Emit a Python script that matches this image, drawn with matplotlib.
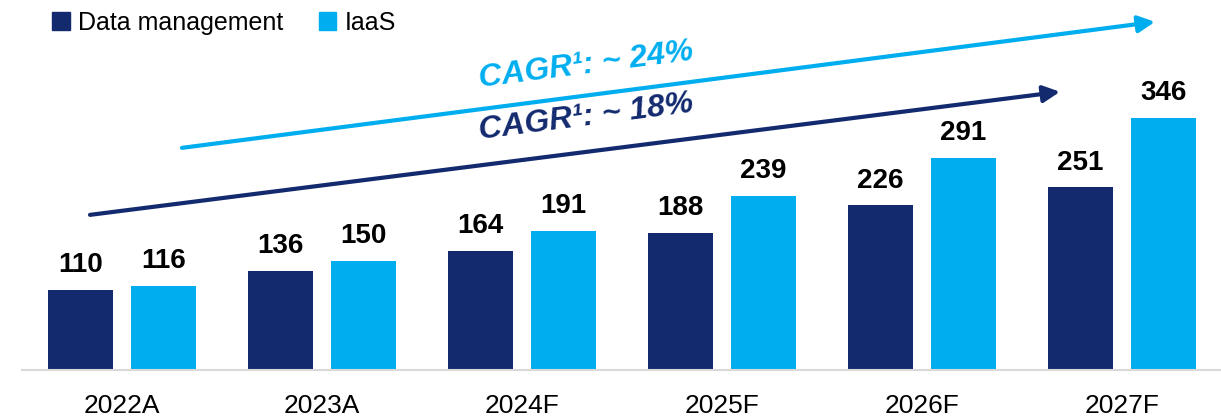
import matplotlib
matplotlib.use("Agg")
import matplotlib.pyplot as plt
from matplotlib.patches import Patch

years = ["2022A", "2023A", "2024F", "2025F", "2026F", "2027F"]
data_mgmt = [110, 136, 164, 188, 226, 251]
iaas = [116, 150, 191, 239, 291, 346]

dark = "#132A6F"
light = "#00AEEF"

plt.rcParams['font.family'] = ['Liberation Sans', 'DejaVu Sans']

fig = plt.figure(figsize=(12.21, 4.16), dpi=100)
ax = fig.add_axes([22 / 1221, 1 - 370 / 416, 1 - 22 / 1221, 370 / 416])

x = list(range(len(years)))
w = 0.325
off = 0.2075
b1 = ax.bar([i - off for i in x], data_mgmt, w, color=dark)
b2 = ax.bar([i + off for i in x], iaas, w, color=light)

for bars, vals in ((b1, data_mgmt), (b2, iaas)):
    for b, v in zip(bars, vals):
        ax.text(b.get_x() + b.get_width() / 2, v + 16, str(v), ha="center",
                va="bottom", fontsize=20, fontweight="bold", color="black")

ax.set_xlim(-0.5, 5.495)
ax.set_ylim(0, 508)
ax.set_xticks(x)
ax.set_xticklabels(years, fontsize=19)
ax.tick_params(axis="x", length=0, pad=17)
ax.set_yticks([])
for s in ("top", "right", "left"):
    ax.spines[s].set_visible(False)
ax.spines["bottom"].set_color("#D9D9D9")
ax.spines["bottom"].set_linewidth(1.5)

# CAGR arrows
ax.annotate("", xy=(5.165, 478), xytext=(0.3, 305),
            arrowprops=dict(arrowstyle="-|>,head_length=1.0,head_width=0.5",
                            color=light, lw=3, shrinkA=0, shrinkB=0))
ax.annotate("", xy=(4.69, 382), xytext=(-0.16, 213),
            arrowprops=dict(arrowstyle="-|>,head_length=1.0,head_width=0.5",
                            color=dark, lw=3, shrinkA=0, shrinkB=0))
ax.text(2.32, 418, "CAGR¹: ~ 24%", color=light, fontsize=23, fontweight="bold",
        fontstyle="italic", rotation=7.3, ha="center", va="center",
        rotation_mode="anchor")
ax.text(2.32, 347, "CAGR¹: ~ 18%", color=dark, fontsize=23, fontweight="bold",
        fontstyle="italic", rotation=7.3, ha="center", va="center",
        rotation_mode="anchor")

handles = [Patch(color=dark, label="Data management"), Patch(color=light, label="IaaS")]
fig.legend(handles=handles, loc="upper left", bbox_to_anchor=(37 / 1221, 1.01),
           ncol=2, frameon=False, fontsize=18, handlelength=0.7, handleheight=0.7,
           handletextpad=0.35, columnspacing=1.4, borderaxespad=0.2)

fig.savefig("out.png", dpi=100)
